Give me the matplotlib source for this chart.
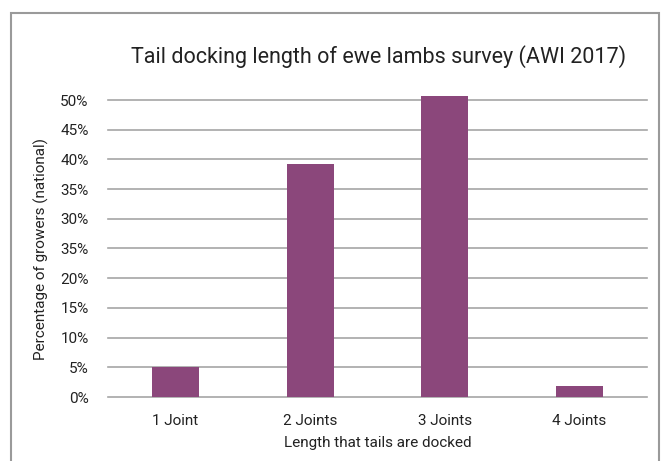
import matplotlib.pyplot as plt
from matplotlib.patches import Rectangle

categories = ['1 Joint', '2 Joints', '3 Joints', '4 Joints']
values = [5.1, 39.2, 50.7, 1.9]
ytick_vals = [0, 5, 10, 15, 20, 25, 30, 35, 40, 45, 50]
ytick_labels = ['0%', '5%', '10%', '15%', '20%', '35%', '30%', '35%', '40%', '45%', '50%']

plt.rcParams['font.family'] = ['Roboto', 'DejaVu Sans']

fig = plt.figure(figsize=(6.68, 4.61), dpi=100)
# outer frame
fig.patches.append(Rectangle((11 / 668, -0.1), 648 / 668, 1.1 - 13 / 461,
                             transform=fig.transFigure, fill=False,
                             edgecolor='#9a9a9a', linewidth=1.5))

ax = fig.add_axes([108 / 668, 1 - 397 / 461, (647 - 108) / 668, (397 - 100) / 461])
x = range(len(categories))
bars = ax.bar(x, values, width=0.35, color='#8B477B', zorder=3)
for b in bars:
    b.set_clip_on(False)
ax.set_xlim(-0.5, 3.5)
ax.set_ylim(0, 50)
ax.set_yticks(ytick_vals)
ax.set_yticklabels(ytick_labels)
ax.set_xticks(list(x))
ax.set_xticklabels(categories)
ax.grid(axis='y', color='#a6a6a6', linewidth=1.2, zorder=0)
for g in ax.get_ygridlines():
    g.set_clip_on(False)
for s in ax.spines.values():
    s.set_visible(False)
ax.tick_params(length=0, labelsize=11, colors='#222222')
ax.tick_params(axis='x', pad=12)
ax.tick_params(axis='y', pad=14)
ax.set_xlabel('Length that tails are docked', fontsize=11, color='#222222', labelpad=6)
ax.set_ylabel('Percentage of growers (national)', fontsize=11, color='#222222', labelpad=8)
fig.text(379 / 668, 1 - 57 / 461, 'Tail docking length of ewe lambs survey (AWI 2017)',
         ha='center', va='center', fontsize=15.5, color='#222222')

fig.savefig('out.png', dpi=100)
